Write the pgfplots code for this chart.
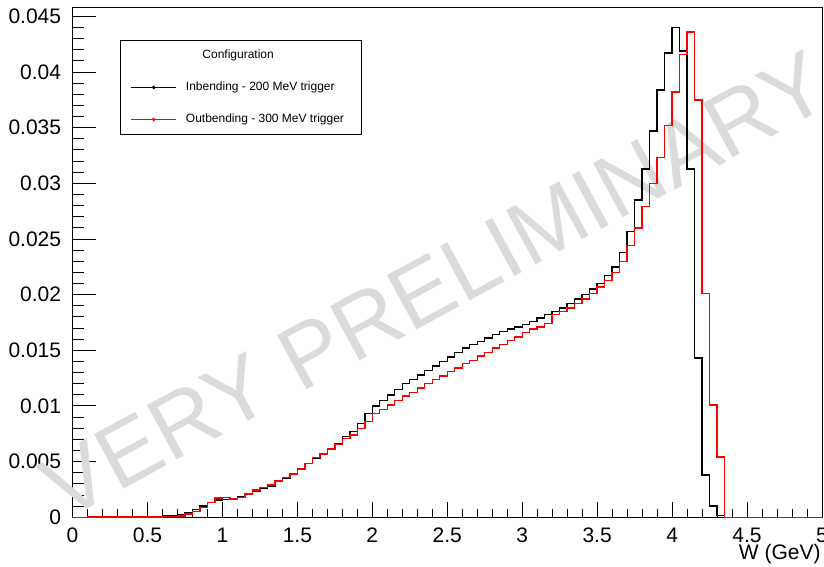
\documentclass[border=0pt]{standalone}
\usepackage{pgfplots}
\pgfplotsset{compat=1.18}
\usepackage{pgfplotstable}
\usepackage{fontspec}
\setmainfont{Liberation Sans}

\pgfplotstableread{
x b r
0.00 0 0
0.05 0 0
0.10 0 0.00002
0.15 0 0.00002
0.20 0 0.00002
0.25 0 0.00002
0.30 0 0.00002
0.35 0 0.00002
0.40 0.00002 0.00002
0.45 0.00003 0.00003
0.50 0.00005 0.00003
0.55 0.00007 0.00004
0.60 0.00010 0.00005
0.65 0.00015 0.00007
0.70 0.00022 0.00010
0.75 0.00040 0.00030
0.80 0.00070 0.00050
0.85 0.00100 0.00090
0.90 0.00135 0.00135
0.95 0.00155 0.00175
1.00 0.00160 0.00180
1.05 0.00170 0.00165
1.10 0.00185 0.00180
1.15 0.00210 0.00210
1.20 0.00236 0.00245
1.25 0.00260 0.00270
1.30 0.00280 0.00290
1.35 0.00320 0.00325
1.40 0.00350 0.00355
1.45 0.00395 0.00390
1.50 0.00440 0.00435
1.55 0.00485 0.00485
1.60 0.00530 0.00535
1.65 0.00570 0.00570
1.70 0.00620 0.00615
1.75 0.00665 0.00655
1.80 0.00725 0.00710
1.85 0.00770 0.00740
1.90 0.00845 0.00800
1.95 0.00930 0.00860
2.00 0.01000 0.00930
2.05 0.01050 0.00970
2.10 0.01100 0.01010
2.15 0.01150 0.01050
2.20 0.01200 0.01090
2.25 0.01240 0.01120
2.30 0.01280 0.01160
2.35 0.01320 0.01200
2.40 0.01360 0.01240
2.45 0.01400 0.01270
2.50 0.01440 0.01310
2.55 0.01480 0.01340
2.60 0.01520 0.01380
2.65 0.01550 0.01410
2.70 0.01580 0.01450
2.75 0.01610 0.01480
2.80 0.01640 0.01520
2.85 0.01670 0.01550
2.90 0.01690 0.01590
2.95 0.01710 0.01620
3.00 0.01730 0.01660
3.05 0.01760 0.01690
3.10 0.01790 0.01710
3.15 0.01820 0.01740
3.20 0.01850 0.01820
3.25 0.01880 0.01850
3.30 0.01920 0.01880
3.35 0.01960 0.01920
3.40 0.02000 0.01960
3.45 0.02050 0.02010
3.50 0.02100 0.02070
3.55 0.02170 0.02130
3.60 0.02250 0.02200
3.65 0.02380 0.02300
3.70 0.02570 0.02440
3.75 0.02850 0.02600
3.80 0.03130 0.02790
3.85 0.03470 0.03000
3.90 0.03840 0.03230
3.95 0.04170 0.03520
4.00 0.04400 0.03820
4.05 0.04190 0.04160
4.10 0.03130 0.04360
4.15 0.01430 0.03750
4.20 0.00380 0.02010
4.25 0.00100 0.01010
4.30 0.00015 0.00540
4.35 0 0
4.40 0 0
4.45 0 0
4.50 0 0
4.55 0 0
4.60 0 0
4.65 0 0
4.70 0 0
4.75 0 0
4.80 0 0
4.85 0 0
4.90 0 0
4.95 0 0
5.00 0 0
}\histdata

\begin{document}
\begin{tikzpicture}
\useasboundingbox (-36.25pt,-24.85pt) rectangle (375.75pt,258.65pt);
\begin{axis}[
  scale only axis,
  width=374.75pt, height=254.9pt,
  xmin=0, xmax=5, ymin=0, ymax=0.0458,
  clip=false,
  axis line style={line width=0.5pt},
  tick pos=left,
  tick align=inside,
  xtick={0,0.5,1,1.5,2,2.5,3,3.5,4,4.5,5},
  xticklabels={0,0.5,1,1.5,2,2.5,3,3.5,4,4.5,5},
  ytick={0,0.005,0.01,0.015,0.02,0.025,0.03,0.035,0.04,0.045},
  yticklabels={0,0.005,0.01,0.015,0.02,0.025,0.03,0.035,0.04,0.045},
  minor x tick num=4,
  minor y tick num=4,
  xtick style={/pgfplots/major tick length=7.5pt,/pgfplots/minor tick length=4pt,line width=0.5pt,black},
  ytick style={/pgfplots/major tick length=11.5pt,/pgfplots/minor tick length=6pt,line width=0.5pt,black},
  scaled y ticks=false,
  /pgf/number format/assume math mode=true,
  tick label style={font=\fontsize{10.5}{10.5}\selectfont, inner sep=0pt},
  xticklabel style={yshift=-5pt},
  yticklabel style={xshift=-5.5pt},
  xlabel={W (GeV)},
  xlabel style={at={(axis description cs:1,0)}, anchor=north east, inner sep=0pt, xshift=-0.5pt, yshift=-13.5pt, font=\fontsize{10.5}{10.5}\selectfont},
  legend style={at={(0.0634,0.9363)}, anchor=north west, draw=black, line width=0.5pt, fill=white,
    font=\fontsize{6}{6}\selectfont, inner xsep=5pt, inner ysep=4.5pt, row sep=10pt, column sep=4.5pt,
    nodes={inner sep=0pt, text height=4.5pt, text depth=1.5pt}},
  legend cell align=left,
  legend image code/.code={\draw[#1] (0pt,0pt) -- (22.5pt,0pt); \fill[#1] (11.25pt,0pt) circle (0.5pt);},
]
\node[rotate=28.5, text=black!14, font=\fontsize{45}{45}\selectfont, inner sep=0pt] at (axis cs:2.42,0.0209) {VERY PRELIMINARY};
\addlegendimage{empty legend}
\addlegendentry{\hspace{8.25pt}Configuration}
\addplot[const plot, black, line width=0.7pt] table[x=x, y=b] {\histdata};
\addlegendentry{\makebox[83pt][l]{Inbending - 200 MeV trigger}}
\addplot[const plot, red, line width=0.7pt] table[x=x, y=r] {\histdata};
\addlegendentry{\makebox[83pt][l]{Outbending - 300 MeV trigger}}
\end{axis}
\end{tikzpicture}
\end{document}
